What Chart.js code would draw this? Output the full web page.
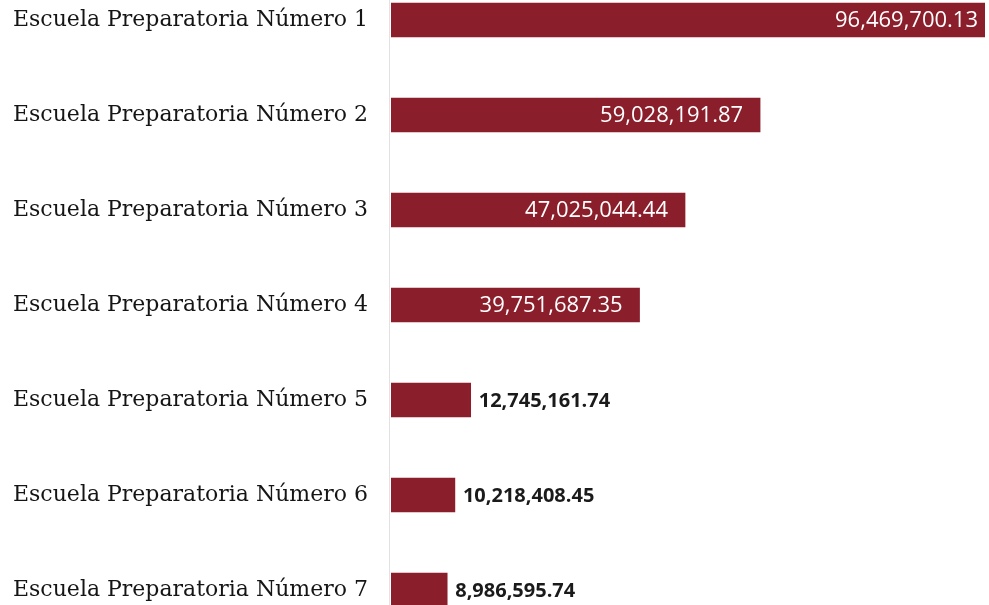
<!DOCTYPE html>
<html>
<head>
<meta charset="utf-8">
<script src="https://cdn.jsdelivr.net/npm/chart.js@4"></script>
<style>
  html, body { margin: 0; padding: 0; background: #ffffff; }
  #wrap { width: 989px; height: 605px; position: relative; }
</style>
</head>
<body>
<div id="wrap"><canvas id="c"></canvas></div>
<script>
const categories = [
  'Escuela Preparatoria Número 1',
  'Escuela Preparatoria Número 2',
  'Escuela Preparatoria Número 3',
  'Escuela Preparatoria Número 4',
  'Escuela Preparatoria Número 5',
  'Escuela Preparatoria Número 6',
  'Escuela Preparatoria Número 7'
];
const amounts = [96469700.13, 59028191.87, 47025044.44, 39751687.35, 12745161.74, 10218408.45, 8986595.74];
const xAxisMax = 95000000;
const insideThreshold = 20000000;

const fmt = v => v.toLocaleString('en-US', { minimumFractionDigits: 2, maximumFractionDigits: 2 });

const valueLabels = {
  id: 'valueLabels',
  afterDatasetsDraw(chart) {
    const ctx = chart.ctx;
    const meta = chart.getDatasetMeta(0);
    const area = chart.chartArea;
    ctx.save();
    meta.data.forEach((bar, i) => {
      const v = amounts[i];
      const txt = fmt(v);
      ctx.textBaseline = 'middle';
      if (v > insideThreshold) {
        ctx.font = '22px "Open Sans"';
        ctx.fillStyle = '#ffffff';
        ctx.textAlign = 'right';
        const xEnd = bar.x > area.right ? area.right - 7 : bar.x - 17;
        ctx.fillText(txt, xEnd, bar.y + 1);
      } else {
        ctx.font = 'bold 20px "Open Sans"';
        ctx.fillStyle = '#1a1a1a';
        ctx.textAlign = 'left';
        ctx.fillText(txt, bar.x + 8, bar.y + 1);
      }
    });
    ctx.restore();
  }
};

const axisLine = {
  id: 'axisLine',
  beforeDatasetsDraw(chart) {
    const ctx = chart.ctx;
    const x = chart.chartArea.left - 2;
    ctx.save();
    ctx.strokeStyle = '#e2e2e2';
    ctx.lineWidth = 1;
    ctx.beginPath();
    ctx.moveTo(x + 0.5, 0);
    ctx.lineTo(x + 0.5, chart.height);
    ctx.stroke();
    ctx.restore();
  }
};

new Chart(document.getElementById('c'), {
  type: 'bar',
  data: {
    labels: categories,
    datasets: [{
      data: amounts,
      backgroundColor: '#8a1f2b',
      borderWidth: 0,
      barThickness: 34,
      clip: { left: 0, top: 20, right: 0, bottom: 20 }
    }]
  },
  options: {
    indexAxis: 'y',
    responsive: true,
    maintainAspectRatio: false,
    animation: false,
    layout: { padding: { top: 20, bottom: 15, right: 4, left: 0 } },
    plugins: {
      legend: { display: false },
      tooltip: { enabled: false }
    },
    scales: {
      x: {
        display: false,
        min: 0,
        max: xAxisMax
      },
      y: {
        offset: false,
        grid: { display: false },
        border: { display: false },
        afterFit(scale) {
          scale.width = 391;
          scale.paddingTop = 0;
          scale.paddingBottom = 0;
        },
        ticks: {
          padding: 15,
          color: '#151515',
          font: { family: '"DejaVu Serif"', size: 22 }
        }
      }
    }
  },
  plugins: [axisLine, valueLabels]
});
</script>
</body>
</html>
